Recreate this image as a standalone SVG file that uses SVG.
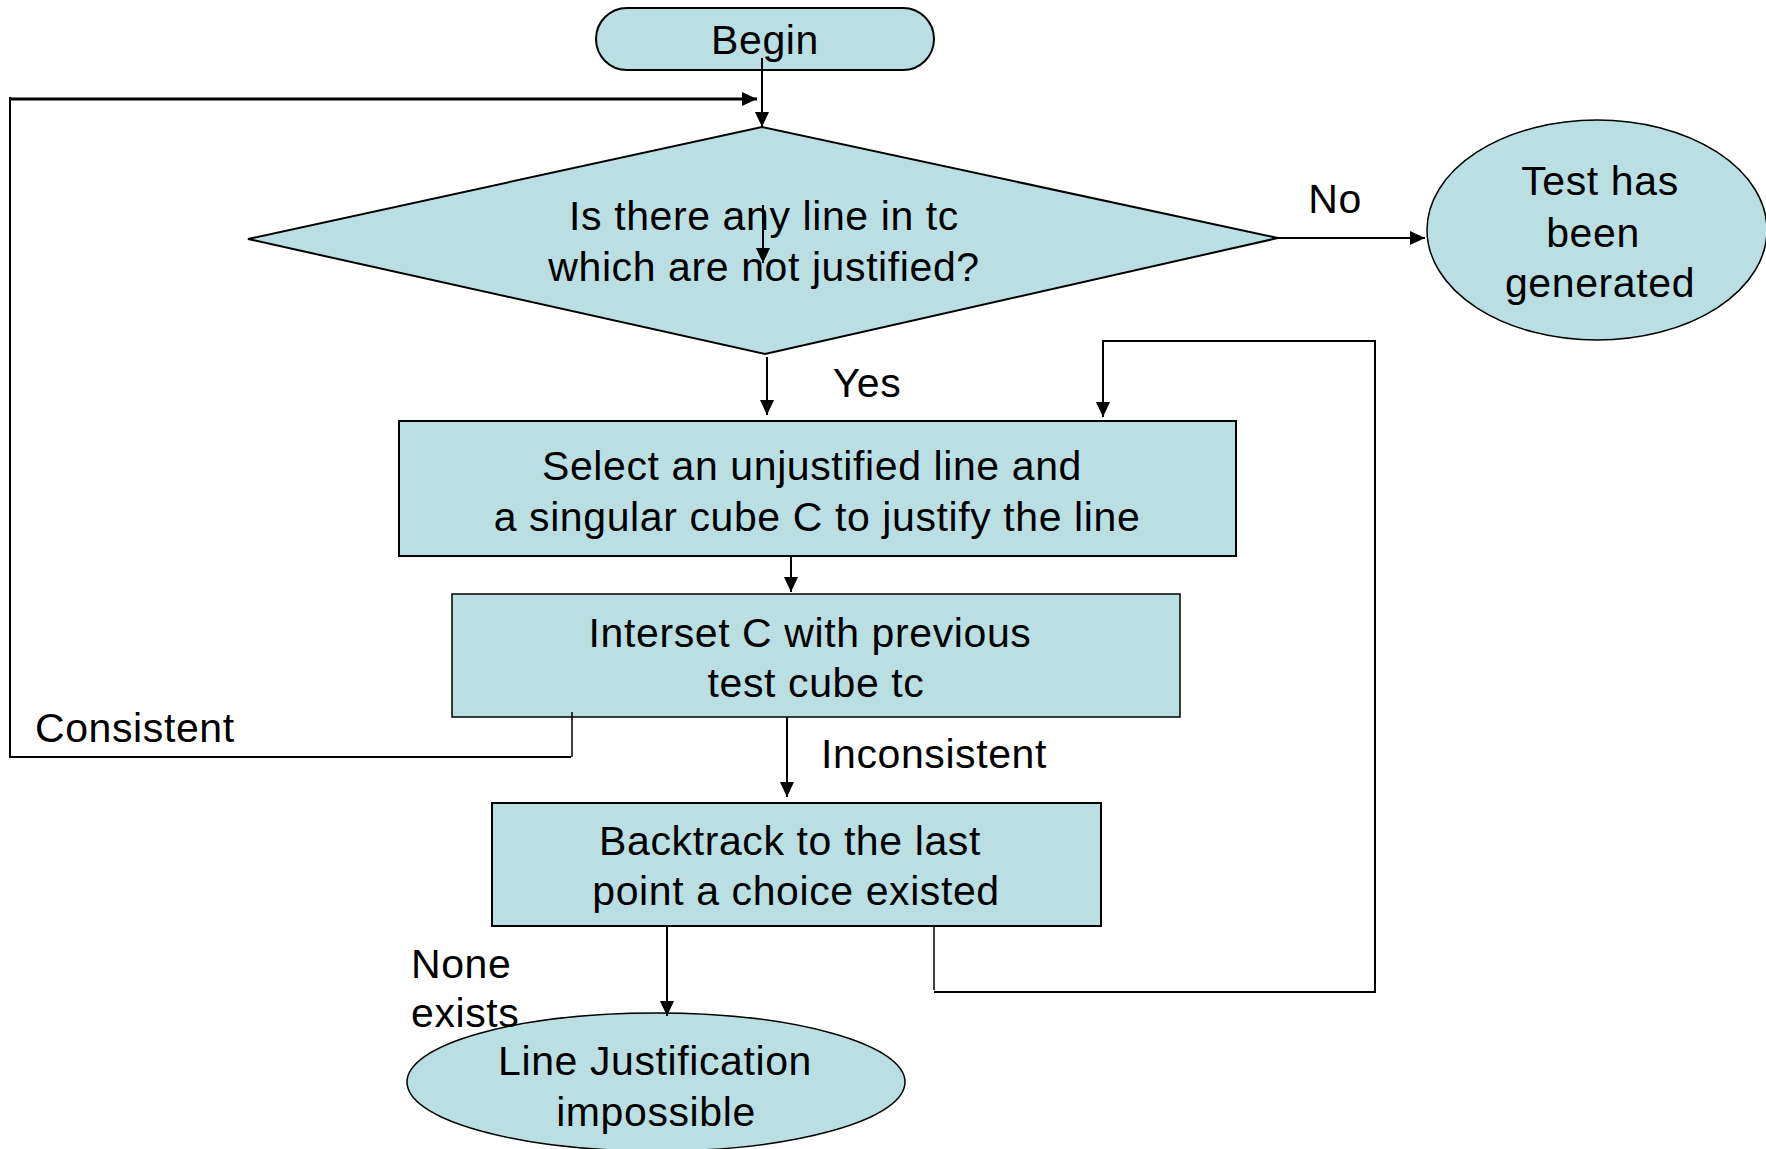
<svg xmlns="http://www.w3.org/2000/svg" width="1766" height="1149" viewBox="0 0 1766 1149">
<style>
.n{fill:#BADFE3;stroke:#000;stroke-width:2}
.t{font-family:"Liberation Sans",Arial,sans-serif;font-size:41px;fill:#000;letter-spacing:0.6px}
.c{text-anchor:middle}
.e{fill:none;stroke:#000;stroke-width:2}
.th{fill:none;stroke:#000;stroke-width:1.5}
</style>
<defs>
<marker id="ah" markerUnits="userSpaceOnUse" markerWidth="16" markerHeight="16" viewBox="0 0 16 16" refX="15" refY="8" orient="auto">
<path d="M0,1 L15,8 L0,15 Z" fill="#000"/>
</marker>
</defs>
<rect width="1766" height="1149" fill="#fff"/>
<g id="begin">
<rect class="n" x="596" y="8" width="338" height="62" rx="31" ry="31"/>
<text class="t c" x="765" y="54">Begin</text>
</g>
<g id="decision">
<polygon class="n" points="248,239 762,127 1278,238 765,354"/>
<text class="t c" x="764" y="230">Is there any line in tc</text>
<text class="t c" x="764" y="281">which are not justified?</text>
</g>
<g id="generated">
<ellipse class="n" cx="1597" cy="230" rx="170" ry="110" style="stroke-width:1.5"/>
<text class="t c" x="1600" y="195">Test has</text>
<text class="t c" x="1593" y="247">been</text>
<text class="t c" x="1600" y="297">generated</text>
</g>
<g id="select">
<rect class="n" x="399" y="421" width="837" height="135"/>
<text class="t c" x="812" y="480">Select an unjustified line and</text>
<text class="t c" x="817" y="531">a singular cube C to justify the line</text>
</g>
<g id="intersect">
<rect class="n" x="452" y="594" width="728" height="123" style="stroke-width:1.5"/>
<text class="t c" x="810" y="647">Interset C with previous</text>
<text class="t c" x="816" y="697">test cube tc</text>
</g>
<g id="backtrack">
<rect class="n" x="492" y="803" width="609" height="123"/>
<text class="t c" x="790" y="855">Backtrack to the last</text>
<text class="t c" x="796" y="905">point a choice existed</text>
</g>
<g id="impossible">
<ellipse class="n" cx="656" cy="1082" rx="249" ry="69" style="stroke-width:1.5"/>
<text class="t c" x="655" y="1075">Line Justification</text>
<text class="t c" x="656" y="1126">impossible</text>
</g>
<g id="connectors">
<line class="e" x1="762" y1="58" x2="762" y2="127" marker-end="url(#ah)"/>
<line class="e" x1="763" y1="205" x2="763" y2="263" marker-end="url(#ah)"/>
<line class="e" x1="1272" y1="238" x2="1425" y2="238" marker-end="url(#ah)"/>
<path class="e" d="M10,97 L10,757 L571,757"/>
<line class="e" x1="10" y1="99" x2="757" y2="99" marker-end="url(#ah)" style="stroke-width:3"/>
<line class="th" x1="572" y1="712" x2="572" y2="757"/>
<line class="e" x1="767" y1="357" x2="767" y2="415" marker-end="url(#ah)"/>
<line class="e" x1="791" y1="557" x2="791" y2="592" marker-end="url(#ah)"/>
<line class="e" x1="787" y1="717" x2="787" y2="797" marker-end="url(#ah)"/>
<line class="e" x1="667" y1="926" x2="667" y2="1016" marker-end="url(#ah)"/>
<line class="th" x1="934" y1="926" x2="934" y2="990"/>
<path class="e" d="M934,992 L1375,992 L1375,341 L1103,341 L1103,417" marker-end="url(#ah)"/>
</g>
<g id="labels">
<text class="t c" x="1335" y="213">No</text>
<text class="t c" x="867" y="397">Yes</text>
<text class="t" x="35" y="742">Consistent</text>
<text class="t" x="821" y="768">Inconsistent</text>
<text class="t" x="411" y="978">None</text>
<text class="t" x="411" y="1027">exists</text>
</g>
</svg>
